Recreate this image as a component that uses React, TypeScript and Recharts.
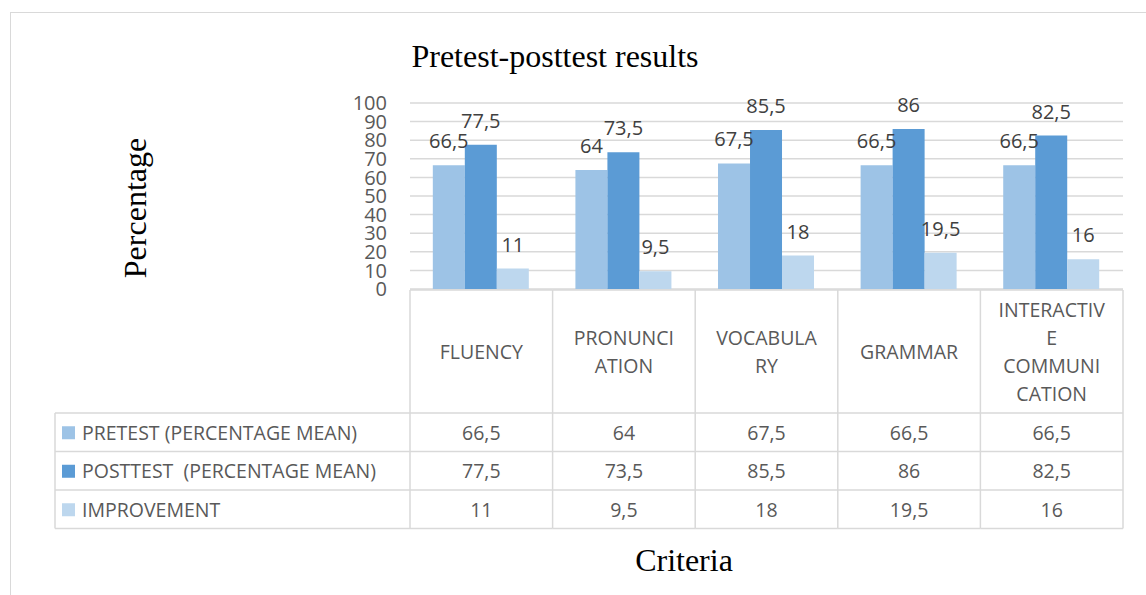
import React from 'react';
import { BarChart, Bar, XAxis, YAxis, CartesianGrid, LabelList } from 'recharts';

const CATEGORIES = ['FLUENCY', 'PRONUNCIATION', 'VOCABULARY', 'GRAMMAR', 'INTERACTIVE COMMUNICATION'];
// header text as wrapped in the table cells
const CATEGORY_LINES = [
  ['FLUENCY'],
  ['PRONUNCI', 'ATION'],
  ['VOCABULA', 'RY'],
  ['GRAMMAR'],
  ['INTERACTIV', 'E', 'COMMUNI', 'CATION'],
];
const PRETEST = [66.5, 64, 67.5, 66.5, 66.5];
const POSTTEST = [77.5, 73.5, 85.5, 86, 82.5];
const IMPROVEMENT = [11, 9.5, 18, 19.5, 16];
const Y_TICKS = [0, 10, 20, 30, 40, 50, 60, 70, 80, 90, 100];

const SERIES = [
  { key: 'pretest', name: 'PRETEST (PERCENTAGE MEAN)', color: '#9DC3E6', values: PRETEST },
  { key: 'posttest', name: 'POSTTEST  (PERCENTAGE MEAN)', color: '#5B9BD5', values: POSTTEST },
  { key: 'improvement', name: 'IMPROVEMENT', color: '#BDD7EE', values: IMPROVEMENT },
];

const data = CATEGORIES.map((c, i) => ({
  name: c,
  pretest: PRETEST[i],
  posttest: POSTTEST[i],
  improvement: IMPROVEMENT[i],
}));

const FONT = '"Open Sans", Lato, sans-serif';
const SERIF = '"Liberation Serif", "Times New Roman", serif';
const GRID = '#d9d9d9';
const TEXT = '#595959';

const HEADER_H = 123;
const ROW_H = 38.5;
const LEGEND_W = 355;

const fmt = (v: any) => String(v).replace('.', ',');

const TableTick = (props: any) => {
  const { x, y, payload, index } = props;
  const n = CATEGORIES.length;
  const colW = payload?.offset ? payload.offset * 2 : (props.width || 713) / n;
  const left = x - colW / 2;
  const right = x + colW / 2;
  const top = y + 1;
  const rowsTop = top + HEADER_H;
  const bottom = rowsTop + ROW_H * SERIES.length;
  const lines = CATEGORY_LINES[index] || [payload.value];
  const lh = 27.7;
  const hc = top + HEADER_H / 2;

  return (
    <g>
      {/* header cell */}
      <line x1={left} x2={right} y1={top} y2={top} stroke={GRID} strokeWidth={1.5} />
      <line x1={left} x2={left} y1={top} y2={bottom} stroke={GRID} strokeWidth={1.5} />
      {index === n - 1 && (
        <line x1={right} x2={right} y1={top} y2={bottom} stroke={GRID} strokeWidth={1.5} />
      )}
      {lines.map((t: string, i: number) => (
        <text
          key={i}
          x={x}
          y={hc + (i - (lines.length - 1) / 2) * lh}
          textAnchor="middle"
          dominantBaseline="central"
          fontFamily={FONT}
          fontSize={19.5}
          fill={TEXT}
        >
          {t}
        </text>
      ))}
      {SERIES.map((s, r) => {
        const ry = rowsTop + r * ROW_H;
        return (
          <g key={s.key}>
            <line x1={left} x2={right} y1={ry} y2={ry} stroke={GRID} strokeWidth={1.5} />
            <text
              x={x}
              y={ry + ROW_H / 2}
              textAnchor="middle"
              dominantBaseline="central"
              fontFamily={FONT}
              fontSize={19.5}
              fill={TEXT}
            >
              {fmt(s.values[index])}
            </text>
          </g>
        );
      })}
      <line x1={left} x2={right} y1={bottom} y2={bottom} stroke={GRID} strokeWidth={1.5} />
      {index === 0 && (
        <g>
          <line x1={left - LEGEND_W} x2={left - LEGEND_W} y1={rowsTop} y2={bottom} stroke={GRID} strokeWidth={1.5} />
          {SERIES.map((s, r) => {
            const ry = rowsTop + r * ROW_H;
            return (
              <g key={s.key}>
                <line x1={left - LEGEND_W} x2={left} y1={ry} y2={ry} stroke={GRID} strokeWidth={1.5} />
                <rect x={left - LEGEND_W + 7} y={ry + ROW_H / 2 - 6} width={13} height={13} fill={s.color} />
                <text
                  x={left - LEGEND_W + 27}
                  y={ry + ROW_H / 2}
                  dominantBaseline="central"
                  fontFamily={FONT}
                  fontSize={19.5}
                  fill={TEXT}
                  style={{ whiteSpace: 'pre' }}
                >
                  {s.name}
                </text>
              </g>
            );
          })}
          <line x1={left - LEGEND_W} x2={left} y1={bottom} y2={bottom} stroke={GRID} strokeWidth={1.5} />
        </g>
      )}
    </g>
  );
};

export default function App() {
  return (
    <div style={{ position: 'absolute', left: 0, top: 0, width: 1146, height: 595, background: '#fff' }}>
      <div
        style={{
          position: 'absolute',
          left: 10,
          top: 12,
          width: 1136,
          height: 583,
          borderLeft: `1.5px solid ${GRID}`,
          borderTop: `1.5px solid ${GRID}`,
        }}
      />
      <div
        style={{
          position: 'absolute',
          left: 0,
          width: 1110,
          top: 38,
          textAlign: 'center',
          fontFamily: SERIF,
          fontSize: 32,
          lineHeight: '36px',
          color: '#000',
        }}
      >
        Pretest-posttest results
      </div>
      <div
        style={{
          position: 'absolute',
          left: 135,
          top: 208,
          transform: 'translate(-50%, -50%) rotate(-90deg)',
          fontFamily: SERIF,
          fontSize: 32,
          lineHeight: '36px',
          whiteSpace: 'nowrap',
          color: '#000',
        }}
      >
        Percentage
      </div>
      <div
        style={{
          position: 'absolute',
          left: 0,
          width: 1368,
          top: 542,
          textAlign: 'center',
          fontFamily: SERIF,
          fontSize: 32,
          lineHeight: '36px',
          color: '#000',
        }}
      >
        Criteria
      </div>
      <div style={{ position: 'absolute', left: 0, top: 0 }}>
        <BarChart
          width={1146}
          height={595}
          data={data}
          margin={{ top: 103, right: 23, bottom: 66, left: 350 }}
          barCategoryGap="16%"
          barGap={0}
        >
          <CartesianGrid vertical={false} stroke={GRID} strokeWidth={1.5} />
          <YAxis
            width={60}
            domain={[0, 100]}
            ticks={Y_TICKS}
            interval={0}
            axisLine={false}
            tickLine={false}
            tickSize={0}
            tickMargin={23}
            tick={{ fontFamily: FONT, fontSize: 20, fill: TEXT }}
          />
          <XAxis
            dataKey="name"
            height={240}
            axisLine={false}
            tickLine={false}
            tickSize={0}
            tickMargin={0}
            interval={0}
            tick={<TableTick />}
          />
          {SERIES.map((s) => (
            <Bar key={s.key} dataKey={s.key} name={s.name} fill={s.color} isAnimationActive={false}>
              <LabelList
                dataKey={s.key}
                position="top"
                offset={17}
                formatter={fmt}
                style={{ fontFamily: FONT, fontSize: 20, fill: '#404040' }}
              />
            </Bar>
          ))}
        </BarChart>
      </div>
    </div>
  );
}
